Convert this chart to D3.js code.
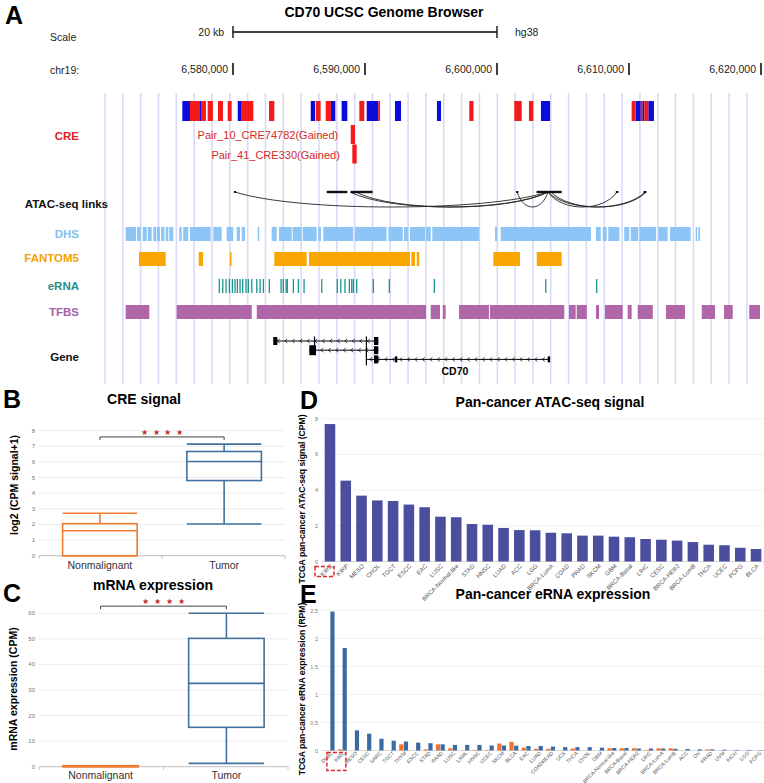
<!DOCTYPE html>
<html><head><meta charset="utf-8">
<script src="https://cdn.jsdelivr.net/npm/d3@7"></script>
<style>
body{margin:0;background:#fff;}
svg{display:block;font-family:"Liberation Sans",Arial,sans-serif;}
</style></head><body>
<svg id="c" width="764" height="783"></svg>
<script>
// ---------------- DATA (genome positions in kb on chr19) ----------------
const coordTicks = [6580, 6590, 6600, 6610, 6620];
const scaleBar = [6580, 6600];
const creGained = [[6576.74,6577.50],[6577.58,6577.95],[6578.08,6578.48],[6578.86,6579.24],[6579.60,6579.90],[6580.66,6581.54],[6582.73,6583.13],[6586.27,6586.64],[6587.02,6587.42],[6589.57,6589.95],[6591.01,6591.14],[6597.90,6598.22],[6601.31,6601.87],[6602.42,6602.75],[6610.20,6610.51],[6610.89,6611.01],[6611.16,6611.46]];
const creLost = [[6576.16,6576.74],[6577.50,6577.58],[6580.36,6580.66],[6585.89,6586.21],[6587.42,6587.75],[6588.23,6588.66],[6590.13,6591.01],[6592.27,6592.73],[6595.45,6595.76],[6603.33,6604.02],[6610.51,6610.89],[6611.01,6611.16],[6611.46,6611.89]];
const pairNames = ["Pair_10_CRE74782(Gained)", "Pair_41_CRE330(Gained)"];
const pairCREs = [[6588.92,6589.24],[6589.04,6589.37]];
const atacAnchors = [[6580.08,6580.22],[6587.10,6588.66],[6588.92,6590.58],[6601.45,6601.62],[6603.00,6604.90],[6609.00,6609.20],[6611.10,6611.32]];
const atacLinks = [[6580.15,6603.86],[6588.86,6603.86],[6589.30,6603.86],[6601.52,6603.86],[6603.86,6609.09],[6603.86,6611.21],[6604.10,6611.30]];
const dhs = [[6571.87,6572.65],[6572.73,6573.01],[6573.16,6573.46],[6573.54,6573.84],[6573.96,6574.17],[6574.22,6574.47],[6574.55,6574.80],[6574.90,6575.10],[6575.17,6575.48],[6575.93,6576.11],[6576.23,6576.61],[6576.74,6578.31],[6578.51,6579.14],[6579.52,6580.02],[6580.28,6580.53],[6580.66,6580.91],[6581.87,6581.99],[6582.93,6583.31],[6583.48,6584.45],[6584.52,6585.20],[6585.28,6586.34],[6586.46,6586.67],[6586.84,6589.11],[6589.24,6591.64],[6591.77,6592.86],[6592.95,6593.28],[6593.41,6594.55],[6594.62,6594.98],[6595.10,6598.66],[6599.85,6600.02],[6600.28,6607.12],[6607.50,6607.86],[6608.01,6608.31],[6608.43,6609.27],[6609.64,6610.02],[6610.13,6610.70],[6610.78,6612.05],[6612.22,6612.93],[6613.11,6614.67],[6615.05,6615.17],[6615.25,6615.38]];
const fantom5 = [[6572.88,6574.90],[6577.40,6577.73],[6579.77,6579.89],[6583.13,6585.58],[6585.76,6593.41],[6593.51,6593.79],[6593.92,6594.11],[6599.72,6601.74],[6603.01,6604.90]];
const erna = [6578.96,6579.22,6579.47,6579.72,6579.95,6580.15,6580.33,6580.53,6580.73,6580.98,6581.16,6581.42,6581.80,6582.05,6582.30,6582.75,6583.64,6583.81,6584.02,6584.11,6584.57,6584.95,6585.38,6586.72,6587.90,6588.16,6588.48,6588.81,6588.99,6589.11,6589.37,6590.63,6591.84,6595.25,6603.69,6607.55];
const tfbs = [[6571.87,6573.66],[6575.73,6581.42],[6581.80,6594.62],[6594.98,6595.68],[6595.89,6596.11],[6597.12,6599.39],[6599.47,6605.10],[6605.45,6605.96],[6606.04,6606.80],[6607.50,6607.73],[6608.18,6609.52],[6609.90,6610.20],[6610.66,6611.80],[6612.80,6614.24],[6615.51,6616.52],[6617.20,6617.86],[6619.11,6619.92]];
const geneName = "CD70";
const transcripts = [
  {span:[6583.05,6591.01], exons:[[6583.05,6583.36,8],[6586.13,6586.19,9],[6590.06,6590.10,9],[6590.68,6591.01,8]]},
  {span:[6585.78,6591.01], exons:[[6585.78,6586.29,10],[6590.06,6590.10,9],[6590.68,6591.01,8]]},
  {span:[6590.06,6604.02], exons:[[6590.06,6590.10,12],[6590.68,6591.01,8],[6592.27,6592.45,6],[6603.84,6604.02,6]]}
];
// Panel B / C boxplots
const groups = ["Nonmalignant", "Tumor"];
const creBox = [{min:0,q1:0,med:1.6,q3:2.05,max:2.72},{min:2.03,q1:4.81,med:6.03,q3:6.67,max:7.14}];
const creTicks = [0,1,2,3,4,5,6,7,8];
const creSigLevel = 7.6;
const mrnaBox = [{min:0,q1:0,med:0.2,q3:0.4,max:0.4},{min:1.3,q1:15.4,med:32.6,q3:50.2,max:60}];
const mrnaTicks = [0,10,20,30,40,50,60];
const mrnaSigLevel = 62.8;
// Panel D
const atacCats = ["KIRC","KIRP","MESO","CHOL","TGCT","ESCC","EAC","LUSC","BRCA-Normal-like","STAD","HNSC","LUAD","ACC","LGG","BRCA-LumA","COAD","PRAD","SKCM","GBM","BRCA-Basal","LIHC","CESC","BRCA-HER2","BRCA-LumB","THCA","UCEC","PCPG","BLCA"];
const atacVals = [7.7,4.53,3.69,3.42,3.39,3.19,3.04,2.51,2.48,2.10,2.06,1.88,1.76,1.75,1.61,1.58,1.45,1.45,1.39,1.36,1.26,1.22,1.17,1.09,0.94,0.91,0.77,0.70];
const atacTicks = [0,2,4,6,8];
// Panel E
const ernaCats = ["DLBC","KIRC","MESO","CESC","SARC","TGCT","THYM","ESCC","STAD","PAAD","LUSC","LAML","HNSC","UCEC","SKCM","BLCA","EAC","LUAD","COADREAD","UCS","THCA","CHOL","GBM","BRCA-Normal-like","BRCA-Basal","BRCA-HER2","LIHC","BRCA-LumA","BRCA-LumB","ACC","OV","PRAD","UVM","KICH","LGG","PCPG"];
const ernaNormal = [0,0.02,0,0,0,0,0.11,0,0.02,0.11,0.04,0,0.01,0.01,0.125,0.155,0.05,0.03,0.03,0,0.035,0,0,0.04,0.04,0.04,0.01,0.04,0.04,0,0,0.02,0,0,0,0];
const ernaTumor = [2.48,1.83,0.36,0.30,0.21,0.175,0.16,0.14,0.13,0.11,0.10,0.10,0.10,0.09,0.09,0.085,0.08,0.08,0.07,0.06,0.06,0.06,0.05,0.045,0.045,0.035,0.035,0.035,0.03,0.025,0.02,0.02,0.015,0.01,0.01,0.005];
const ernaTicks = [0,0.5,1,1.5,2,2.5];
const highlight = "KIRC";

// ---------------- DRAW ----------------
const svg = d3.select("#c");
const fmtCoord = d => d3.format(",")(Math.round(d*1000));

// panel letters
[["A",5,24],["B",3,408],["C",3,602],["D",300,409],["E",300,603]].forEach(([t,x,y])=>{
  svg.append("text").attr("x",x).attr("y",y).attr("font-size",25).attr("font-weight","bold").text(t);
});

// ---- Panel A ----
const gx = d3.scaleLinear().domain([6580, 6620]).range([233, 761]);
const A = svg.append("g");
d3.range(37).forEach(i=>{
  const x = 105 + i*17.83;
  A.append("line").attr("x1",x).attr("x2",x).attr("y1",93).attr("y2",384)
   .attr("stroke","#dadaf6").attr("stroke-width",1.6);
});
A.append("text").attr("x",384).attr("y",17).attr("text-anchor","middle")
 .attr("font-size",14).attr("font-weight","bold").text("CD70 UCSC Genome Browser");
A.append("text").attr("x",50).attr("y",41).attr("font-size",10.5).attr("fill","#222").text("Scale");
A.append("line").attr("x1",gx(scaleBar[0])).attr("x2",gx(scaleBar[1])).attr("y1",32).attr("y2",32).attr("stroke","#000").attr("stroke-width",1.3);
scaleBar.forEach(v=>A.append("line").attr("x1",gx(v)).attr("x2",gx(v)).attr("y1",26).attr("y2",38).attr("stroke","#000").attr("stroke-width",1.3));
A.append("text").attr("x",gx(scaleBar[0])-9).attr("y",36).attr("text-anchor","end").attr("font-size",10.5).attr("fill","#222").text((scaleBar[1]-scaleBar[0])+" kb");
A.append("text").attr("x",gx(scaleBar[1])+18).attr("y",36).attr("font-size",10.5).attr("fill","#222").text("hg38");
A.append("text").attr("x",50).attr("y",74).attr("font-size",10.5).attr("fill","#222").text("chr19:");
coordTicks.forEach(t=>{
  A.append("line").attr("x1",gx(t)).attr("x2",gx(t)).attr("y1",63).attr("y2",75).attr("stroke","#000").attr("stroke-width",1.5);
  A.append("text").attr("x",gx(t)-5).attr("y",73).attr("text-anchor","end").attr("font-size",10.5).attr("fill","#222").text(fmtCoord(t));
});
[["CRE",140,"#e02020",79],["ATAC-seq links",208,"#111",108],["DHS",238,"#7fbff2",79],["FANTOM5",262,"#f4a300",79],["eRNA",290,"#1f8f8a",79],["TFBS",316,"#a860a6",79],["Gene",361,"#111",79]].forEach(([t,y,c,x])=>{
  A.append("text").attr("x",x).attr("y",y).attr("text-anchor","end").attr("font-size",11.5).attr("font-weight","bold").attr("fill",c).text(t);
});
const seg = (g, arr, y, h, col) => g.selectAll(null).data(arr).enter().append("rect")
  .attr("x",d=>gx(d[0])).attr("width",d=>Math.max(1,gx(d[1])-gx(d[0]))).attr("y",y).attr("height",h).attr("fill",col);
seg(A, creLost, 101, 20, "#0b0bdc");
seg(A, creGained, 101, 20, "#f21a1a");
pairCREs.forEach((d,i)=>{
  const y = 125 + i*19.5;
  A.append("rect").attr("x",gx(d[0])).attr("width",gx(d[1])-gx(d[0])).attr("y",y).attr("height",19).attr("fill","#f21a1a");
  A.append("text").attr("x",gx(d[0])-12.5).attr("y",y+14).attr("text-anchor","end").attr("font-size",11).attr("fill","#d42a2a").text(pairNames[i]);
});
const ay = 192;
atacLinks.forEach(([a,b])=>{
  const x1=gx(a), x2=gx(b), w=x2-x1;
  A.append("path").attr("d",`M${x1},${ay} C${x1+w*0.2},${ay+20} ${x2-w*0.2},${ay+20} ${x2},${ay}`)
   .attr("fill","none").attr("stroke","#222").attr("stroke-width",0.9);
});
atacAnchors.forEach(([a,b])=>{
  const big = (b-a)>0.5;
  A.append("rect").attr("x",gx(a)).attr("width",Math.max(2,gx(b)-gx(a))).attr("y",ay-(big?1.2:1)).attr("height",big?2.4:2).attr("fill","#111");
});
seg(A, dhs, 227, 14, "#8cc5f6");
seg(A, fantom5, 252, 14, "#f9a602");
A.selectAll(null).data(erna).enter().append("rect")
 .attr("x",d=>gx(d)-0.6).attr("width",1.3).attr("y",279).attr("height",14).attr("fill","#1a9590");
seg(A, tfbs, 305, 14, "#b066a8");
transcripts.forEach((t,i)=>{
  const y = 341 + i*9.2;
  const x1=gx(t.span[0]), x2=gx(t.span[1]);
  A.append("line").attr("x1",x1).attr("x2",x2).attr("y1",y).attr("y2",y).attr("stroke","#000").attr("stroke-width",1);
  for(let x=x1+5; x<x2-3; x+=7.5){
    A.append("path").attr("d",`M${x+1.5},${y-2} L${x-1},${y} L${x+1.5},${y+2}`).attr("fill","none").attr("stroke","#000").attr("stroke-width",0.7);
  }
  t.exons.forEach(e=>{
    A.append("rect").attr("x",gx(e[0])).attr("width",Math.max(1.2,gx(e[1])-gx(e[0]))).attr("y",y-e[2]/2).attr("height",e[2]).attr("fill","#000");
  });
});
{
  const t = transcripts[2];
  A.append("text").attr("x",(gx(t.span[0])+gx(t.span[1]))/2-3).attr("y",375).attr("text-anchor","middle").attr("font-size",10.5).attr("font-weight","bold").text(geneName);
}

// ---- Box panels ----
function boxPanel(opt){
  const g = svg.append("g");
  const y = d3.scaleLinear().domain([0,opt.ticks[opt.ticks.length-1]]).range(opt.yr);
  const x = d3.scaleBand().domain(groups).range(opt.xr).paddingInner(0.4).paddingOuter(0.19);
  g.append("text").attr("x",opt.titleX).attr("y",opt.titleY).attr("text-anchor","middle").attr("font-size",14).attr("font-weight","bold").text(opt.title);
  opt.ticks.forEach(t=>{
    if(t>0) g.append("line").attr("x1",opt.xr[0]).attr("x2",opt.xr[1]).attr("y1",y(t)).attr("y2",y(t)).attr("stroke","#e6e6e6").attr("stroke-width",0.8);
    g.append("text").attr("x",opt.xr[0]-4).attr("y",y(t)+2).attr("text-anchor","end").attr("font-size",6).attr("fill","#777").text(t);
  });
  g.append("line").attr("x1",opt.xr[0]).attr("x2",opt.xr[1]).attr("y1",y(0)).attr("y2",y(0)).attr("stroke","#bfbfbf").attr("stroke-width",1);
  [opt.xr[0],(opt.xr[0]+opt.xr[1])/2,opt.xr[1]].forEach(tx=>g.append("line").attr("x1",tx).attr("x2",tx).attr("y1",y(0)).attr("y2",y(0)+3).attr("stroke","#bfbfbf"));
  const cols = ["#ed7d31","#41719c"];
  opt.data.forEach((d,i)=>{
    const x0=x(groups[i]), w=x.bandwidth(), cx=x0+w/2, c=cols[i];
    g.append("line").attr("x1",cx).attr("x2",cx).attr("y1",y(d.max)).attr("y2",y(d.q3)).attr("stroke",c).attr("stroke-width",1.6);
    g.append("line").attr("x1",cx).attr("x2",cx).attr("y1",y(d.q1)).attr("y2",y(d.min)).attr("stroke",c).attr("stroke-width",1.6);
    g.append("line").attr("x1",x0).attr("x2",x0+w).attr("y1",y(d.max)).attr("y2",y(d.max)).attr("stroke",c).attr("stroke-width",1.6);
    g.append("line").attr("x1",x0).attr("x2",x0+w).attr("y1",y(d.min)).attr("y2",y(d.min)).attr("stroke",c).attr("stroke-width",1.6);
    g.append("rect").attr("x",x0).attr("width",w).attr("y",y(d.q3)).attr("height",Math.max(0.5,y(d.q1)-y(d.q3))).attr("fill","none").attr("stroke",c).attr("stroke-width",1.6);
    g.append("line").attr("x1",x0).attr("x2",x0+w).attr("y1",y(d.med)).attr("y2",y(d.med)).attr("stroke",c).attr("stroke-width",1.6);
    g.append("text").attr("x",cx).attr("y",opt.catY).attr("text-anchor","middle").attr("font-size",10.5).attr("fill","#333").text(groups[i]);
  });
  const bx1 = x(groups[0])+x.bandwidth()/2, bx2 = x(groups[1])+x.bandwidth()/2, by = y(opt.sig);
  g.append("path").attr("d",`M${bx1},${by+3} L${bx1},${by} L${bx2},${by} L${bx2},${by+3}`).attr("fill","none").attr("stroke","#444").attr("stroke-width",1);
  const sc = (bx1+bx2)/2;
  [-1.5,-0.5,0.5,1.5].forEach(k=>g.append("text").attr("x",sc+k*11.7).attr("y",by-2).attr("text-anchor","middle").attr("font-size",8).attr("fill","#c0302b").text("\u2605"));
  g.append("text").attr("transform",`translate(${opt.labX},${opt.labY}) rotate(-90)`).attr("text-anchor","middle").attr("font-size",10.5).attr("font-weight","bold").text(opt.ylab);
}
boxPanel({data:creBox,ticks:creTicks,sig:creSigLevel,yr:[555.7,430.7],xr:[39,285],title:"CRE signal",titleX:144,titleY:404,catY:569,labX:18,labY:485,ylab:"log2 (CPM signal+1)"});
boxPanel({data:mrnaBox,ticks:mrnaTicks,sig:mrnaSigLevel,yr:[766.7,613.3],xr:[39,288],title:"mRNA expression",titleX:153,titleY:590,catY:779,labX:17,labY:689,ylab:"mRNA expression (CPM)"});

// ---- Panel D ----
{
  const g = svg.append("g");
  const y = d3.scaleLinear().domain([0,8]).range([561.5,418.7]);
  const x = d3.scaleBand().domain(atacCats).range([322,764]).paddingInner(0.33).paddingOuter(0.17);
  g.append("text").attr("x",550).attr("y",407).attr("text-anchor","middle").attr("font-size",14).attr("font-weight","bold").text("Pan-cancer ATAC-seq signal");
  atacTicks.forEach(t=>{
    g.append("line").attr("x1",322).attr("x2",764).attr("y1",y(t)).attr("y2",y(t)).attr("stroke",t===0?"#d0d0d0":"#ececec").attr("stroke-width",0.8);
    g.append("text").attr("x",318).attr("y",y(t)+2).attr("text-anchor","end").attr("font-size",5.5).attr("fill","#777").text(t);
  });
  g.selectAll(null).data(atacCats).enter().append("rect")
   .attr("x",d=>x(d)).attr("width",x.bandwidth()).attr("y",(d,i)=>y(atacVals[i])).attr("height",(d,i)=>y(0)-y(atacVals[i])).attr("fill","#4b4d9e");
  atacCats.forEach(c=>{
    g.append("text").attr("transform",`translate(${x(c)+x.bandwidth()/2+3},${y(0)+5}) rotate(-45)`).attr("text-anchor","end").attr("font-size",6).attr("fill","#555").text(c);
  });
  const hx = x(highlight)+x.bandwidth()/2;
  g.append("rect").attr("x",hx-15).attr("y",y(0)+5).attr("width",19).attr("height",10).attr("fill","none").attr("stroke","#e3262b").attr("stroke-width",1.5).attr("stroke-dasharray","4,2");
  g.append("text").attr("transform","translate(305,499) rotate(-90)").attr("text-anchor","middle").attr("font-size",8.6).attr("font-weight","bold").text("TCGA pan-cancer ATAC-seq signal (CPM)");
}

// ---- Panel E ----
{
  const g = svg.append("g");
  const y = d3.scaleLinear().domain([0,2.5]).range([750.5,610.5]);
  const x = d3.scaleBand().domain(ernaCats).range([324,765]).paddingInner(0.2).paddingOuter(0.1);
  const xs = d3.scaleBand().domain(["normal","tumor"]).range([0,x.bandwidth()]).padding(0.1);
  g.append("text").attr("x",553).attr("y",599).attr("text-anchor","middle").attr("font-size",14).attr("font-weight","bold").text("Pan-cancer eRNA expression");
  ernaTicks.forEach(t=>{
    g.append("line").attr("x1",322).attr("x2",764).attr("y1",y(t)).attr("y2",y(t)).attr("stroke",t===0?"#d0d0d0":"#ececec").attr("stroke-width",0.8);
    g.append("text").attr("x",318).attr("y",y(t)+2).attr("text-anchor","end").attr("font-size",5.5).attr("fill","#777").text(t);
  });
  const series = [["normal",ernaNormal,"#ee7230"],["tumor",ernaTumor,"#3b6aa3"]];
  series.forEach(([k,vals,col])=>{
    g.selectAll(null).data(ernaCats).enter().append("rect")
     .attr("x",d=>x(d)+xs(k)).attr("width",xs.bandwidth())
     .attr("y",(d,i)=>y(vals[i])).attr("height",(d,i)=>y(0)-y(vals[i])).attr("fill",col);
  });
  ernaCats.forEach(c=>{
    g.append("text").attr("transform",`translate(${x(c)+x.bandwidth()/2+3},${y(0)+3}) rotate(-45)`).attr("text-anchor","end").attr("font-size",5.2).attr("fill","#555").text(c);
  });
  const hx = x(highlight)+x.bandwidth()/2;
  g.append("rect").attr("x",hx-15.5).attr("y",y(0)+2).attr("width",19).attr("height",18).attr("fill","none").attr("stroke","#e3262b").attr("stroke-width",1.5).attr("stroke-dasharray","4,2");
  g.append("text").attr("transform","translate(305,689) rotate(-90)").attr("text-anchor","middle").attr("font-size",8.6).attr("font-weight","bold").text("TCGA pan-cancer eRNA expression (RPM)");
}
</script>
</body></html>
